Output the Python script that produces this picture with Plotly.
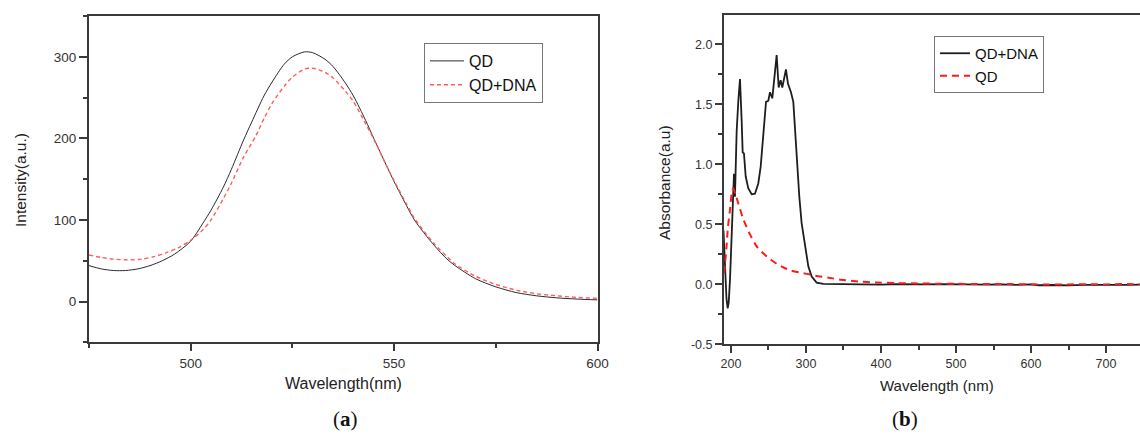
import plotly.graph_objects as go

# ---------------- Panel (a): fluorescence emission ----------------
wl_a = [475, 478, 481, 484, 487, 490, 493, 496, 500, 503, 505, 508, 510, 513, 515, 518,
        520, 523, 525, 528, 530, 533, 535, 538, 540, 543, 545, 548, 550, 553, 555, 558,
        560, 563, 565, 570, 575, 580, 585, 590, 595, 600]
qd_a = [44, 40, 38, 38, 40, 44, 50, 58, 74, 96, 112, 140, 162, 198, 220, 252,
        269, 291, 300, 306, 305, 297, 288, 268, 252, 222, 200, 168, 147, 118, 100, 80,
        68, 52, 44, 28, 18, 11, 7, 4.5, 3, 2]
wl_a2 = [475, 478, 481, 485, 488, 491, 494, 497, 500, 503, 505, 508, 510, 513, 516, 518,
         520, 523, 525, 528, 530, 533, 535, 538, 540, 543, 545, 548, 550, 553, 555, 558,
         560, 563, 565, 570, 575, 580, 585, 590, 595, 600]
qddna_a = [57, 54, 52, 51, 52, 55, 60, 66, 75, 88, 100, 126, 145, 177, 203, 224,
           243, 264, 275, 285, 286, 281, 274, 258, 245, 218, 199, 168, 148, 120, 102, 82,
           70, 55, 46, 31, 21, 14, 9.5, 7, 5, 4]

# ---------------- Panel (b): UV-vis absorbance ----------------
wl_b_dna = [190, 192, 194, 195.6, 197, 198.7, 200.5, 202.2, 204, 205.3, 207.6, 209.8, 211, 212,
            214.2, 215.6, 217.3, 219.6, 223, 227.6, 232, 236.4, 239.6, 243.1, 246.7, 249.8,
            252, 255.1, 257.8, 260.9, 263.6, 266.2, 268.4, 270.7, 273.3, 276, 280, 283.1,
            285.3, 287.6, 291.1, 294.2, 298.7, 303.1, 307.6, 314.2, 323, 330, 345, 360, 380,
            400, 420, 440, 460, 480, 500, 520, 540, 560, 580, 600, 610, 630, 650, 670, 690,
            710, 730, 745]
abs_b_dna = [0.45, 0.1, -0.12, -0.2, -0.15, 0.04, 0.35, 0.65, 0.92, 0.73, 1.28, 1.53, 1.66, 1.71,
             1.37, 1.10, 1.09, 0.90, 0.80, 0.75, 0.755, 0.84, 0.98, 1.28, 1.52, 1.53,
             1.60, 1.55, 1.75, 1.91, 1.64, 1.70, 1.64, 1.71, 1.79, 1.67, 1.60, 1.52,
             1.31, 1.03, 0.73, 0.51, 0.31, 0.15, 0.064, 0.014, 0.003, 0.002, 0.001, 0.0, 0.001,
             -0.002, 0.001, -0.001, 0.0, 0.002, -0.001, 0.002, -0.002, -0.001, -0.004, 0.0, -0.008,
             -0.006, -0.009, -0.005, -0.007, -0.003, -0.005, -0.003]
wl_b_qd = [191, 194, 196, 198.7, 201, 203, 206, 210, 216, 225, 235, 248, 261, 270, 280, 290,
           301, 313, 330, 347, 370, 393, 420, 450, 475, 500, 525, 550, 575, 600, 625, 650,
           675, 700, 725, 745]
abs_b_qd = [0.09, 0.31, 0.48, 0.62, 0.76, 0.80, 0.75, 0.67, 0.55, 0.42, 0.31, 0.23, 0.17, 0.14,
            0.115, 0.10, 0.087, 0.072, 0.055, 0.038, 0.024, 0.015, 0.01, 0.007, 0.005, 0.004,
            0.003, 0.002, 0.002, 0.0, -0.002, -0.001, 0.001, -0.001, 0.002, 0.0]

# tick labels
xa_ticks = [500, 550, 600]
ya_ticks = [0, 100, 200, 300]
xb_ticks = [200, 300, 400, 500, 600, 700]
yb_ticks = [-0.5, 0.0, 0.5, 1.0, 1.5, 2.0]
yb_ticktext = ["-0.5", "0.0", "0.5", "1.0", "1.5", "2.0"]

W, H = 1140, 437
AX = "#3a3a3a"
TICKFONT = "#333333"

fig = go.Figure()

fig.add_trace(go.Scatter(x=wl_a, y=qd_a, mode="lines", name="QD",
                         line=dict(color="#2a2a2a", width=1, shape="spline", smoothing=0.8),
                         xaxis="x", yaxis="y", legend="legend"))
fig.add_trace(go.Scatter(x=wl_a2, y=qddna_a, mode="lines", name="QD+DNA",
                         line=dict(color="#ff5c5c", width=1.4, dash="4px,3px", shape="spline", smoothing=0.8),
                         xaxis="x", yaxis="y", legend="legend"))

fig.add_trace(go.Scatter(x=wl_b_dna, y=abs_b_dna, mode="lines", name="QD+DNA",
                         line=dict(color="#1e1e1e", width=1.8),
                         xaxis="x2", yaxis="y2", legend="legend2"))
fig.add_trace(go.Scatter(x=wl_b_qd, y=abs_b_qd, mode="lines", name="QD",
                         line=dict(color="#ff1a1a", width=2, dash="7px,5px", shape="spline", smoothing=0.6),
                         xaxis="x2", yaxis="y2", legend="legend2"))

common = dict(showgrid=False, zeroline=False, showline=True, linecolor=AX, linewidth=2,
              ticks="outside", tickcolor=AX, tickwidth=1.5, automargin=False)

fig.update_layout(
    width=W, height=H,
    margin=dict(l=0, r=0, t=0, b=0),
    paper_bgcolor="white", plot_bgcolor="white",
    font=dict(family="Liberation Sans, Arial, sans-serif", color="#222222"),
    xaxis=dict(domain=[89 / W, 597.5 / W], range=[475, 600], anchor="y",
               tickvals=xa_ticks, ticklen=7, mirror=True,
               tickfont=dict(size=13.5, color=TICKFONT),
               minor=dict(ticks="outside", ticklen=4, dtick=25, tick0=475, tickcolor=AX, tickwidth=1.5),
               **common),
    yaxis=dict(domain=[1 - 342.3 / H, 1 - 16 / H], range=[-50, 350], anchor="x",
               tickvals=ya_ticks, ticklen=8, mirror=True,
               tickfont=dict(size=13.5, color=TICKFONT),
               minor=dict(ticks="outside", ticklen=4, dtick=50, tick0=-50, tickcolor=AX, tickwidth=1.5),
               **common),
    xaxis2=dict(domain=[724 / W, 1.0], range=[190.7, 745.3], anchor="y2",
                tickvals=xb_ticks, ticklen=7, mirror=True,
                tickfont=dict(size=12.5, color=TICKFONT),
                minor=dict(ticks="outside", ticklen=4, dtick=50, tick0=200, tickcolor=AX, tickwidth=1.5),
                **common),
    yaxis2=dict(domain=[1 - 344.3 / H, 1 - 15 / H], range=[-0.5, 2.244], anchor="x2",
                tickvals=yb_ticks, ticktext=yb_ticktext, ticklen=7, mirror=False,
                tickfont=dict(size=12.5, color=TICKFONT),
                minor=dict(ticks="outside", ticklen=4, dtick=0.25, tick0=0, tickcolor=AX, tickwidth=1.5),
                **common),
    legend=dict(x=424 / W, y=1 - 43 / H, xanchor="left", yanchor="top",
                bgcolor="white", bordercolor="#777777", borderwidth=1,
                font=dict(size=16, color="#111111"), tracegroupgap=0,
                itemwidth=34),
    legend2=dict(x=934 / W, y=1 - 36 / H, xanchor="left", yanchor="top",
                 bgcolor="white", bordercolor="#777777", borderwidth=1,
                 font=dict(size=15, color="#111111"), tracegroupgap=0,
                 itemwidth=30),
    showlegend=True,
)

ann = [
    dict(text="Wavelength(nm)", x=343 / W, y=1 - 383 / H, font=dict(size=16, color="#222")),
    dict(text="Intensity(a.u.)", x=20 / W, y=1 - 180 / H, textangle=-90, font=dict(size=15.5, color="#222")),
    dict(text="Wavelength (nm)", x=937 / W, y=1 - 385 / H, font=dict(size=15, color="#222")),
    dict(text="Absorbance(a.u)", x=664 / W, y=1 - 183 / H, textangle=-90, font=dict(size=15.5, color="#222")),
    dict(text="(<b>a</b>)", x=345 / W, y=1 - 419 / H,
         font=dict(size=21, color="#111", family="Liberation Serif, DejaVu Serif, serif")),
    dict(text="(<b>b</b>)", x=905 / W, y=1 - 419 / H,
         font=dict(size=21, color="#111", family="Liberation Serif, DejaVu Serif, serif")),
]
for a in ann:
    fig.add_annotation(xref="paper", yref="paper", xanchor="center", yanchor="middle",
                       showarrow=False, **a)

fig.write_html("out.html", config={"displayModeBar": False},
               post_script="document.body.style.margin='0';document.body.style.overflow='hidden';")
